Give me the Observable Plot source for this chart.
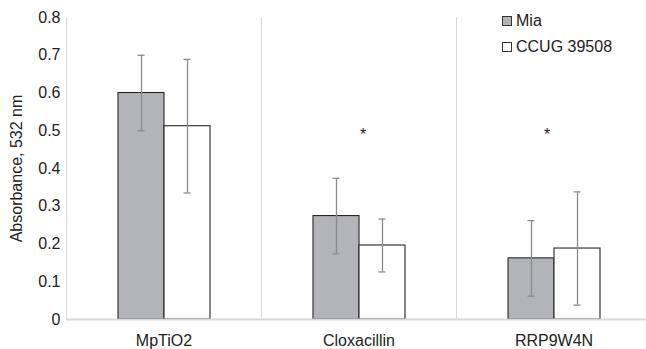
<!DOCTYPE html>
<html>
<head>
<meta charset="utf-8">
<script src="https://cdn.jsdelivr.net/npm/d3@7"></script>
<script src="https://cdn.jsdelivr.net/npm/@observablehq/plot@0.6"></script>
<style>
  html, body { margin: 0; padding: 0; background: #fff; overflow: hidden; }
  #wrap { position: relative; width: 646px; height: 349px; font-family: "Liberation Sans", Arial, Helvetica, sans-serif; }
  #legend { position: absolute; left: 502px; top: 8px; font-size: 16px; color: #222; }
  #legend .row { display: flex; align-items: center; height: 26px; }
  #legend .sw { width: 10px; height: 10px; border: 1px solid #333; box-sizing: border-box; margin-right: 4px; }
</style>
</head>
<body>
<div id="wrap"><div id="legend"></div></div>
<script>
// ---- data ----
const categories = ["MpTiO2", "Cloxacillin", "RRP9W4N"];
const strains = ["Mia", "CCUG 39508"];
const miaMean = [0.600, 0.274, 0.162];
const miaErr  = [0.100, 0.100, 0.100];
const ccugMean = [0.512, 0.196, 0.188];
const ccugErr  = [0.177, 0.070, 0.150];
const significant = ["Cloxacillin", "RRP9W4N"];
const starValue = 0.50;
const yTicks = [0, 0.1, 0.2, 0.3, 0.4, 0.5, 0.6, 0.7, 0.8];
const yLabel = "Absorbance, 532 nm";
const colors = ["#b3b4b8", "#ffffff"];

// ---- table built from arrays ----
const rows = [];
categories.forEach((c, i) => {
  rows.push({category: c, strain: strains[0], mean: miaMean[i], err: miaErr[i]});
  rows.push({category: c, strain: strains[1], mean: ccugMean[i], err: ccugErr[i]});
});

const chart = Plot.plot({
  width: 646,
  height: 349,
  marginLeft: 66,
  marginRight: -5,
  marginTop: 17,
  marginBottom: 30,
  style: {fontFamily: '"Liberation Sans", Arial, Helvetica, sans-serif', background: "transparent"},
  fx: {domain: categories, padding: 0, label: null, axis: null},
  x: {domain: strains, paddingInner: 0, paddingOuter: 1.0745, axis: null},
  y: {domain: [0, 0.8], axis: null},
  color: {domain: strains, range: colors},
  marks: [
    Plot.frame({anchor: "left", stroke: "#d9d9d9", strokeWidth: 1}),
    Plot.barY(rows, {fx: "category", x: "strain", y: "mean", fill: "strain", stroke: "#262626", strokeWidth: 1.1}),
    Plot.ruleX(rows, {fx: "category", x: "strain", y1: d => d.mean - d.err, y2: d => d.mean + d.err, stroke: "#8c8c8c", strokeWidth: 1.3}),
    Plot.tickY(rows, {fx: "category", x: "strain", y: d => d.mean + d.err, stroke: "#8c8c8c", strokeWidth: 1.3, insetLeft: 19.5, insetRight: 19.5}),
    Plot.tickY(rows, {fx: "category", x: "strain", y: d => d.mean - d.err, stroke: "#8c8c8c", strokeWidth: 1.3, insetLeft: 19.5, insetRight: 19.5}),
    Plot.ruleY([0], {stroke: "#d9d9d9", strokeWidth: 2}),
    Plot.text([significant[0]], {fx: d => d, y: () => starValue, text: () => "*", fontSize: 16, fill: "#222", dy: 4, dx: 4}),
    Plot.text([significant[1]], {fx: d => d, y: () => starValue, text: () => "*", fontSize: 16, fill: "#222", dy: 4, dx: -7}),
    Plot.axisFx({anchor: "bottom", tickSize: 0, tickPadding: 15, fontSize: 16, label: null, color: "#222"}),
    Plot.axisY({ticks: yTicks, tickSize: 0, tickPadding: 6, fontSize: 16, color: "#222",
      tickFormat: d => d === 0 ? "0" : d.toFixed(1),
      label: yLabel, labelAnchor: "center", labelOffset: 56, labelArrow: "none"})
  ]
});
document.getElementById("wrap").prepend(chart);

// ---- legend ----
const legend = document.getElementById("legend");
strains.forEach((s, i) => {
  const row = document.createElement("div");
  row.className = "row";
  const sw = document.createElement("span");
  sw.className = "sw";
  sw.style.background = colors[i];
  const t = document.createElement("span");
  t.textContent = s;
  row.append(sw, t);
  legend.append(row);
});
</script>
</body>
</html>
